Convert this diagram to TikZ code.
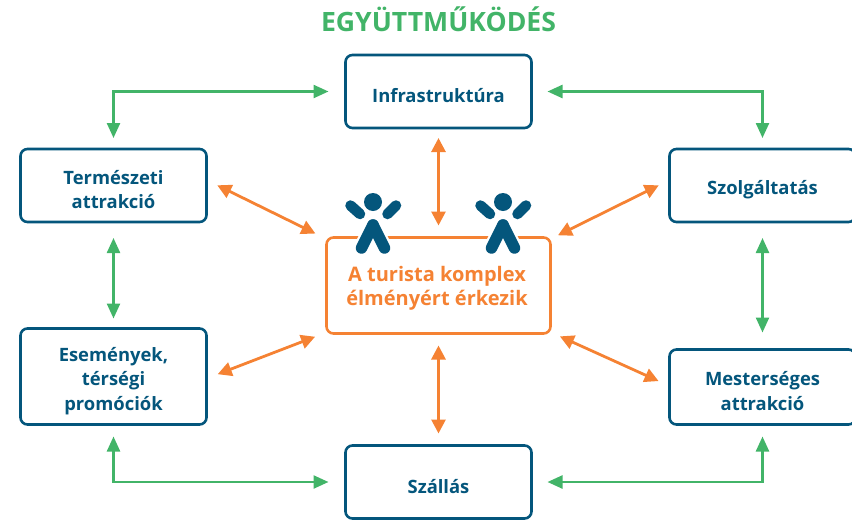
\documentclass[tikz,border=0pt]{standalone}
\usepackage{fontspec}
\setmainfont{Open Sans}
\usetikzlibrary{positioning, arrows.meta}
\definecolor{kek}{HTML}{04567C}
\definecolor{narancs}{HTML}{F58233}
\definecolor{zold}{HTML}{42B468}
\newcommand{\lent}{\rule{0pt}{22.5pt}}
\tikzset{
    doboz/.style={draw=kek, line width=2.6pt, rounded corners=7pt, fill=white, text=kek, font=\fontsize{18.4}{24.5}\selectfont\bfseries, align=center, minimum width=186pt, minimum height=73pt, inner sep=0pt, outer sep=0pt},
    kozep/.style={doboz, draw=narancs, text=narancs, minimum width=224pt, minimum height=96pt},
    narancsnyil/.style={draw=narancs, line width=2.8pt, {Triangle[length=14pt,width=14pt]}-{Triangle[length=14pt,width=14pt]}},
    zoldnyil/.style={draw=zold, line width=2.4pt, {Triangle[length=15pt,width=13pt]}-{Triangle[length=15pt,width=13pt]}},
    figura/.style={draw=kek, line width=10.5pt, line cap=round},
    lab/.style={figura, line width=11.5pt}
}
\begin{document}
\begin{tikzpicture}[x=1pt, y=-1pt]
    \clip (0,0) rectangle (852,520);
    \node [kozep] (centre) at (438.5,285.5) {};
    \node [doboz, above=109.5pt of centre] (infra) {\lent Infrastruktúra};
    \node [doboz, below=112pt of centre] (szallas) {\lent Szállás};
    \node [doboz, above left=15.5pt and 120pt of centre] (termeszeti) {\lent Természeti\\attrakció};
    \node [doboz, above right=15.5pt and 119pt of centre] (szolgaltatas) {\lent Szolgáltatás};
    \node [doboz, below left=-5pt and 120pt of centre, minimum height=96pt] (esemenyek) {\lent Események,\\térségi\\promóciók};
    \node [doboz, below right=16pt and 119pt of centre, minimum height=75pt] (mesterseges) {\lent Mesterséges\\attrakció};
    \node [text=zold, font=\fontsize{26.6}{26.6}\selectfont\bfseries] (cim) at (438.5,19) {EGYÜTTMŰKÖDÉS};
    \node [text=narancs, font=\fontsize{20}{24}\selectfont\bfseries, align=center] (szoveg) at (437,288) {A turista komplex\\élményért érkezik};

    \foreach \fx in {373,503} {
        \draw [white, line width=16pt, line cap=round] (\fx,225) -- (\fx-11.5,248) (\fx,225) -- (\fx+11.5,248);
        \fill [kek] (\fx,202) circle (9pt);
        \draw [figura] (\fx-22.5,205.5) -- (\fx-13,214);
        \draw [figura] (\fx+23,205.5) -- (\fx+14.5,214);
        \draw [lab] (\fx,225) -- (\fx-11.5,248);
        \draw [lab] (\fx,225) -- (\fx+11.5,248);
    }

    \draw [zoldnyil, shorten <=17pt, shorten >=11pt] (infra) -| (termeszeti);
    \draw [zoldnyil, shorten <=16pt, shorten >=11pt] (infra) -| (szolgaltatas);
    \draw [zoldnyil, shorten <=17pt, shorten >=12pt] (szallas) -| (esemenyek);
    \draw [zoldnyil, shorten <=16pt, shorten >=12pt] (szallas) -| (mesterseges);
    \draw [zoldnyil, shorten <=16pt, shorten >=10pt] (termeszeti) -- (esemenyek);
    \draw [zoldnyil, shorten <=16pt, shorten >=17pt] (szolgaltatas) -- (mesterseges);

    \draw [narancsnyil, shorten <=10pt, shorten >=12pt] (infra) -- (centre.north -| infra);
    \draw [narancsnyil, shorten <=12pt, shorten >=12pt] (centre.south -| szallas) -- (szallas);
    \draw [narancsnyil, shorten <=12pt, shorten >=9pt] ([yshift=5.5pt]termeszeti.east) -- ([xshift=-3pt]centre.north west);
    \draw [narancsnyil, shorten <=12pt, shorten >=5pt] ([yshift=5.5pt]szolgaltatas.west) -- ([xshift=3pt]centre.north east);
    \draw [narancsnyil, shorten <=12pt, shorten >=9pt] ([yshift=-2pt]esemenyek.east) -- ([xshift=-3pt]centre.south west);
    \draw [narancsnyil, shorten <=7pt, shorten >=12pt] ([xshift=3pt]centre.south east) -- ([yshift=1pt]mesterseges.west);
\end{tikzpicture}
\end{document}
